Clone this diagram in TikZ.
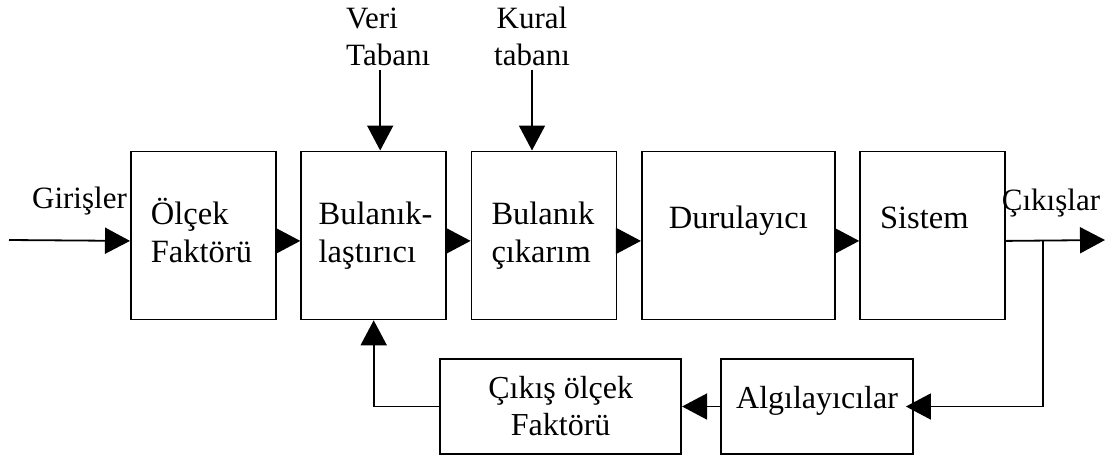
\documentclass[tikz,border=0pt]{standalone}
\usepackage{fontspec}
\setmainfont{Liberation Serif}
\usetikzlibrary{arrows.meta, positioning}

\begin{document}
\begin{tikzpicture}[
        x=1pt, y=-1pt, node distance=23.5pt, line width=1.8pt,
        >={Triangle[length=25pt,width=26pt]},
        font=\fontsize{31}{37}\selectfont,
        block/.style={draw, minimum width=145pt, minimum height=168pt, inner ysep=0pt,
                      inner xsep=20pt, text width=105pt, align=left,
                      font=\fontsize{32.5}{38}\selectfont, text height=22pt, text depth=44pt},
        oneline/.style={text height=22pt, text depth=35pt},
        lowblock/.style={draw, minimum height=95pt, inner sep=0pt, align=center,
                      font=\fontsize{32}{37}\selectfont},
        ]
        \useasboundingbox (0,0) rectangle (1113,459);

        % forward chain
        \node[block, anchor=north west] (olcek) at (130,150.5) {Ölçek\\Faktörü};
        \node[block, inner xsep=17.5pt, text width=110pt, right=of olcek] (bulanik) {\mbox{Bulanık-}\\laştırıcı};
        \node[block, right=of bulanik] (cikarim) {Bulanık\\çıkarım};
        \node[block, oneline, text width=153pt, align=center, right=of cikarim] (durul) {Durulayıcı};
        \node[block, oneline, right=of durul] (sistem) {Sistem};

        % feedback path
        \node[lowblock, minimum width=192pt, text depth=19pt] (algi) at (817,406.5) {Algılayıcılar};
        \node[lowblock, minimum width=241pt, left=38pt of algi] (cikis) {Çıkış ölçek\\Faktörü};

        % labels
        \node[align=left, anchor=base west] (veri) at (342,65) {Veri\\Tabanı};
        \node[align=center, anchor=base] (kural) at (532,65) {Kural\\tabanı};
        \node[anchor=base] (girisler) at (79.5,208) {Girişler};
        \node[anchor=base] (cikislar) at (1051,210) {Çıkışlar};

        \coordinate (giris) at (9,240);
        \coordinate (uc) at (1105,240);
        \coordinate (kol) at (1043,240);

        \draw[->] (giris) -- ([yshift=-5.5pt]olcek.west);
        \foreach \a/\b in {olcek/bulanik, bulanik/cikarim, cikarim/durul, durul/sistem}
            \draw[->] ([yshift=-5.5pt]\a.east) -- ([yshift=-5.5pt]\b.west);
        \draw[->] ([yshift=-5.5pt]sistem.east) -- (uc);
        \draw[->, shorten >=-8pt] (kol) |- (algi.east);
        \draw[->] (algi.west) -- (cikis.east);
        \draw[->] (cikis.west) -| (bulanik.south);

        \draw[->] ([xshift=-8pt]veri.south) -- ([xshift=-8pt]veri.south |- bulanik.north);
        \draw[->] (kural.south) -- (kural.south |- cikarim.north);
      \end{tikzpicture}
\end{document}
